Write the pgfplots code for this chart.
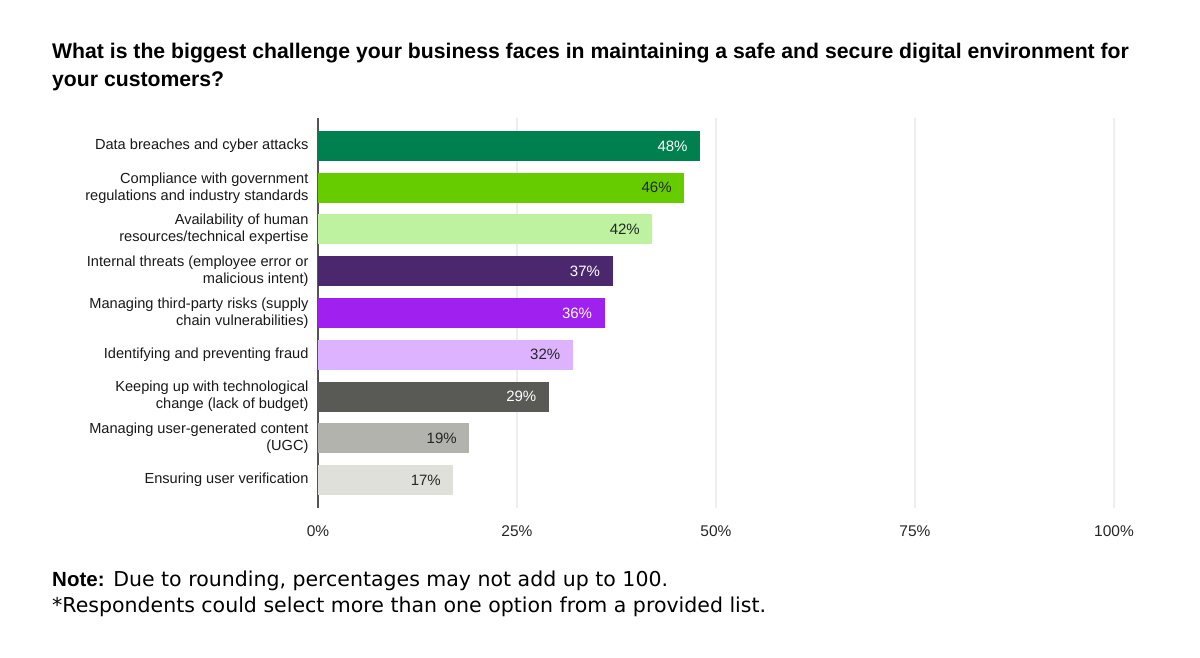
\documentclass[border=0pt]{standalone}
\usepackage{pgfplots}
\pgfplotsset{compat=1.18}
\usepackage{fontspec}
\setmainfont{Liberation Sans}
\newfontfamily\widefont{DejaVu Sans}

\definecolor{c1}{HTML}{00804F}
\definecolor{c2}{HTML}{66CC00}
\definecolor{c3}{HTML}{BEF2A0}
\definecolor{c4}{HTML}{4B286D}
\definecolor{c5}{HTML}{A020F0}
\definecolor{c6}{HTML}{DDB3FF}
\definecolor{c7}{HTML}{595955}
\definecolor{c8}{HTML}{B3B3AD}
\definecolor{c9}{HTML}{E0E0DA}
\definecolor{axisgray}{HTML}{555555}
\definecolor{gridgray}{HTML}{EEEEEC}

\pgfplotsset{
    valwhite/.style={every node near coord/.append style={color=white}},
    valdark/.style={every node near coord/.append style={color=black!85}},
}

\begin{document}
\begin{tikzpicture}
    \path[use as bounding box, fill=white] (0,0) rectangle (1200pt,-658pt);

    \node[anchor=base west, inner sep=0pt, font=\fontsize{21.2}{25}\selectfont\bfseries] at (52pt,-59pt)
        {What is the biggest challenge your business faces in maintaining a safe and secure digital environment for};
    \node[anchor=base west, inner sep=0pt, font=\fontsize{21.2}{25}\selectfont\bfseries] at (52pt,-87pt)
        {your customers?};

    \begin{axis}[
            scale only axis,
            width=796pt, height=390pt,
            at={(318pt,-508pt)}, anchor=south west,
            xbar, bar width=30pt, bar shift=0pt,
            xmin=0, xmax=100,
            ymin=-0.67, ymax=8.67,
            y dir=reverse,
            axis lines*=left,
            x axis line style={draw=none},
            y axis line style={draw=axisgray, line width=2pt},
            xmajorgrids,
            grid style={draw=gridgray, line width=1.5pt},
            major tick length=0pt,
            xtick={0,25,50,75,100},
            xticklabels={0\%,25\%,50\%,75\%,100\%},
            xticklabel style={font=\fontsize{15.5}{18}\selectfont, text=black!85, yshift=-14pt},
            ytick={0,1,2,3,4,5,6,7,8},
            yticklabels={
                {Data breaches and cyber attacks},
                {Compliance with government\\regulations and industry standards},
                {Availability of human\\resources/technical expertise},
                {Internal threats (employee error or\\malicious intent)},
                {Managing third-party risks (supply\\chain vulnerabilities)},
                {Identifying and preventing fraud},
                {Keeping up with technological\\change (lack of budget)},
                {Managing user-generated content\\(UGC)},
                {Ensuring user verification}},
            yticklabel style={font=\fontsize{14.6}{17}\selectfont, align=right, text=black!90, xshift=-6pt},
            nodes near coords={\pgfmathprintnumber{\pgfplotspointmeta}\%},
            every node near coord/.append style={anchor=east, xshift=-9pt, font=\fontsize{15}{18}\selectfont},
            /pgf/number format/assume math mode=true,
            point meta=x,
        ]
        \addplot[fill=c1, draw=none, valwhite] coordinates {(48,0)};
        \addplot[fill=c2, draw=none, valdark]  coordinates {(46,1)};
        \addplot[fill=c3, draw=none, valdark]  coordinates {(42,2)};
        \addplot[fill=c4, draw=none, valwhite] coordinates {(37,3)};
        \addplot[fill=c5, draw=none, valwhite] coordinates {(36,4)};
        \addplot[fill=c6, draw=none, valdark]  coordinates {(32,5)};
        \addplot[fill=c7, draw=none, valwhite] coordinates {(29,6)};
        \addplot[fill=c8, draw=none, valdark]  coordinates {(19,7)};
        \addplot[fill=c9, draw=none, valdark]  coordinates {(17,8)};
    \end{axis}

    \node[anchor=base west, inner sep=0pt, font=\widefont\fontsize{20.5}{24}\selectfont] at (52pt,-586pt)
        {{\rmfamily\bfseries Note:} Due to rounding, percentages may not add up to 100.};
    \node[anchor=base west, inner sep=0pt, font=\widefont\fontsize{20.5}{24}\selectfont] at (52pt,-612pt)
        {*Respondents could select more than one option from a provided list.};
\end{tikzpicture}
\end{document}
